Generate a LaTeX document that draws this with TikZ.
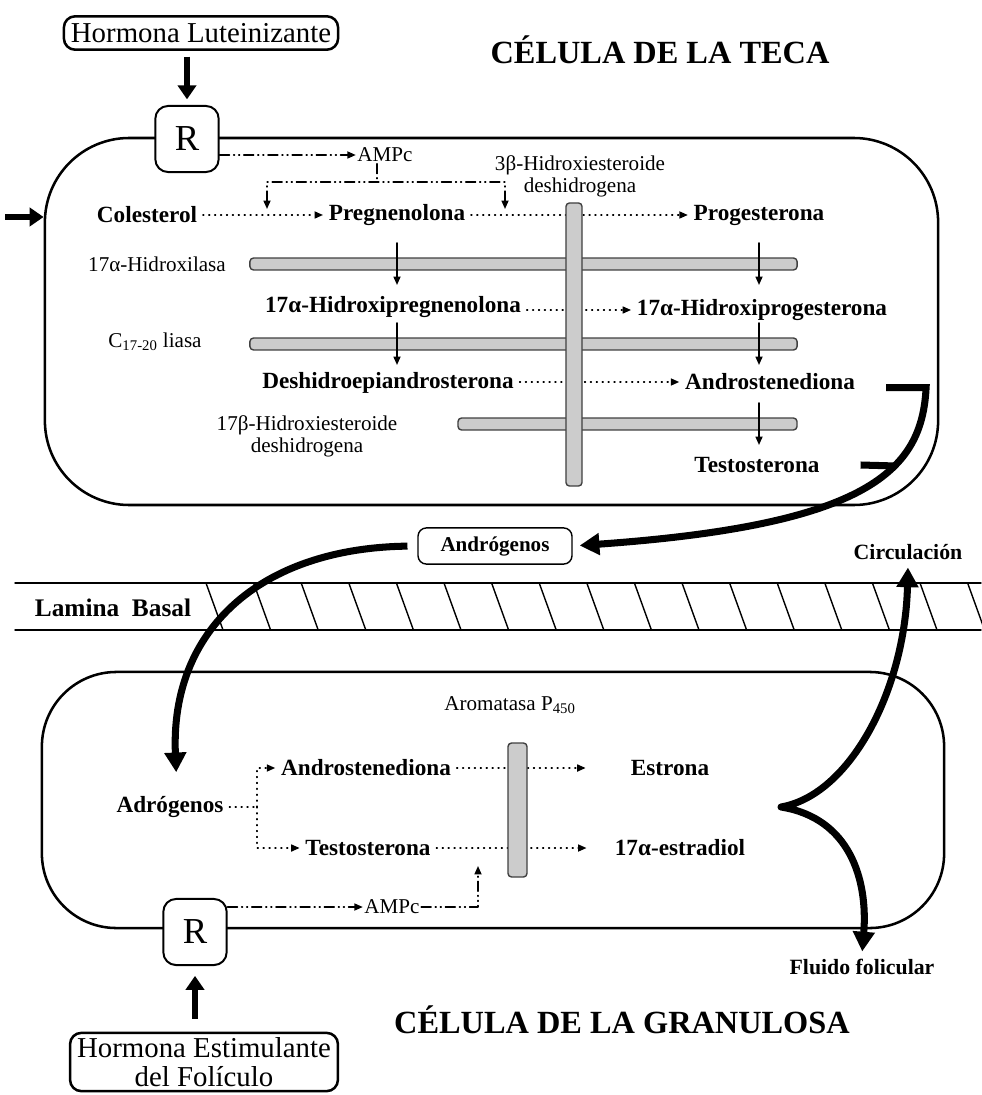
\documentclass[tikz,border=0pt]{standalone}
\usepackage{fontspec}
\setmainfont{Liberation Serif}
\usetikzlibrary{arrows.meta,calc}

\newcommand\fz[2]{\fontsize{#1}{#2}\selectfont}

\begin{document}
\begin{tikzpicture}[x=0.025cm, y=-0.025cm, line cap=round, line join=round,
  met/.style={font=\bfseries\fz{16.5}{18}, inner sep=4pt},
  enz/.style={font=\fz{15}{15.5}, inner sep=1pt, align=center},
  cell/.style={draw, line width=1.8pt, inner sep=0pt},
  rec/.style={draw, fill=white, line width=1.4pt, rounded corners=9pt,
    minimum width=45pt, minimum height=47pt, inner sep=0pt, font=\fz{26}{26}},
  hormbox/.style={draw, fill=white, line width=1.8pt, rounded corners=8pt,
    font=\fz{20.5}{21}, align=center, inner xsep=5pt, inner ysep=5pt},
  bar/.style={draw=black!75, fill=black!20, line width=1pt, rounded corners=2.5pt, inner sep=0pt},
  tip/.style={-{Triangle[length=6pt,width=5pt]}},
  dot/.style={line width=1.1pt, dash pattern=on 0.6pt off 3.6pt, tip},
  camp/.style={line width=1.1pt, dash pattern=on 7pt off 3pt on 0.6pt off 3pt on 0.6pt off 3pt, tip},
  drop/.style={line width=1.1pt, tip},
  hormar/.style={line width=4.5pt, line cap=butt, -{Triangle[length=10pt,width=13pt]}},
  flux/.style={line width=5pt, line cap=butt, -{Triangle[length=14pt,width=15pt]}},
  title/.style={font=\bfseries\fz{23}{25}},
  side/.style={font=\bfseries\fz{15.5}{16}},
]
  \useasboundingbox (0,0) rectangle (981,1095);

  % Células
  \node[cell, rounded corners=60pt, minimum width=635.2pt, minimum height=261pt] (teca) at (491.5,321.5) {};
  \node[cell, rounded corners=53pt, minimum width=641.6pt, minimum height=182.1pt] (gran) at (493,800) {};

  % Lamina basal
  \draw[line width=1pt] (15,583) -- (981,583) (15,630) -- (981,630);
  \foreach \k in {0,...,16} \draw[line width=1pt] (206+47.6*\k,583) -- ++(17,47);
  \node[font=\bfseries\fz{18}{18}] (lam) at (113,608) {Lamina\ \ Basal};

  % Hormonas y receptores
  \node[hormbox] (lh) at (201,33) {Hormona Luteinizante};
  \node[rec] (rt) at (187,139) {R};
  \node[hormbox, inner ysep=3pt] (fsh) at (204,1062) {Hormona Estimulante\\del Folículo};
  \node[rec] (rb) at (195,932) {R};
  \draw[hormar, shorten <=4pt, shorten >=4pt] (lh.south -| rt) -- (rt.north);
  \draw[hormar, shorten <=9pt, shorten >=7pt] (fsh.north -| rb) -- (rb.south);
  \coordinate (ent) at (5,217);
  \draw[hormar] (ent) -- (ent -| teca.west);

  % Títulos
  \node[title] (tteca) at (660,50) {CÉLULA DE LA TECA};
  \node[title] (tgran) at (622,1020) {CÉLULA DE LA GRANULOSA};

  % Célula de la teca
  \node[met] (col) at (147,215) {Colesterol};
  \node[met] (preg) at (397,215) {Pregnenolona};
  \node[met] (prog) at (759,215) {Progesterona};
  \node[met] (hpreg) at (393,307) {17α-Hidroxipregnenolona};
  \node[met] (hprog) at (762,310) {17α-Hidroxiprogesterona};
  \node[met] (dhea) at (388,383) {Deshidroepiandrosterona};
  \node[met] (andr) at (770,382) {Androstenediona};
  \node[met] (test) at (757,465) {Testosterona};

  \node[enz] (ampc) at (385,155) {AMPc};
  \node[enz] (hsd3) at (580,176) {3β-Hidroxiesteroide\\deshidrogena};
  \node[enz] (hidrox) at (157,264) {17α-Hidroxilasa};
  \node[enz] (liasa) at (155,342) {C\textsubscript{17-20} liasa};
  \node[enz] (hsd17) at (307,436) {17β-Hidroxiesteroide\\deshidrogena};

  \draw[dot] (col) -- (preg);
  \draw[dot] (preg) -- (prog);
  \draw[dot] (hpreg.east |- hprog) -- (hprog.west);
  \draw[dot] (dhea.east |- andr) -- (andr.west);

  \draw[camp] (rt.east |- ampc) -- (ampc.west);
  \coordinate (sp) at (377,182);
  \coordinate (h1) at (267,209);
  \coordinate (h2) at (505,209);
  \draw[camp, -] (ampc.south -| sp) -- (sp);
  \draw[camp, {Triangle[length=6pt,width=5pt]}-{Triangle[length=6pt,width=5pt]}] (h1) |- (sp) -| (h2);

  \node[bar, minimum width=389.1pt, minimum height=8.5pt] (b1) at (523.5,264) {};
  \node[bar, minimum width=389.1pt, minimum height=8.5pt] (b2) at (523.5,344) {};
  \node[bar, minimum width=241.1pt, minimum height=8.5pt] (b3) at (627.5,424) {};
  \node[bar, minimum width=11.4pt, minimum height=201.3pt] (bv) at (574,344.5) {};

  \foreach \b in {b1,b2} \draw[drop] ($(\b.center -| preg)+(0,-21)$) -- ($(\b.center -| preg)+(0,21)$);
  \foreach \b in {b1,b2,b3} \draw[drop] ($(\b.center -| prog)+(0,-21)$) -- ($(\b.center -| prog)+(0,21)$);

  % Andrógenos hacia la granulosa
  \node[draw, fill=white, rounded corners=6pt, line width=1pt, font=\bfseries\fz{15}{15},
    inner xsep=16pt, inner ysep=6pt] (andg) at (495,546) {Andrógenos};
  \draw[flux, line join=miter, shorten >=5pt] ([xshift=18pt, yshift=-4pt]andr.east) -- ++(40,0)
    .. controls (922,470) and (870,525) .. (andg.east);
  \coordinate (tj) at (896,466);
  \draw[line width=5pt, line cap=butt] ([xshift=25pt]test.east) -- (tj);

  % Célula de la granulosa
  \node[met] (adrg) at (170,807) {Adrógenos};
  \node[met] (andb) at (366,768) {Androstenediona};
  \node[met] (tesb) at (368,848) {Testosterona};
  \node[met] (estr) at (670,768) {Estrona};
  \node[met] (estd) at (680,848) {17α-estradiol};
  \node[enz] (arom) at (510,705) {Aromatasa P\textsubscript{450}};
  \node[enz] (ampb) at (392,907) {AMPc};

  \draw[flux, shorten <=7pt, shorten >=13pt] (andg.west) .. controls (260,548) and (170,630) .. (adrg.north -| 177,0);

  \coordinate (fk) at (257,807);
  \coordinate (cj) at (478,866);
  \draw[dot, -] (adrg.east) -- (fk);
  \draw[dot] (fk) |- (andb.west);
  \draw[dot] (fk) |- (tesb.west);
  \draw[dot] (andb.east) -- ([xshift=-28pt]estr.west);
  \draw[dot] (tesb.east) -- ([xshift=-16pt]estd.west);
  \draw[camp] (rb.east |- ampb) -- (ampb.west);
  \draw[camp] (ampb.east) -| (cj);
  \node[bar, minimum width=13.5pt, minimum height=95.3pt] (b4) at (517.5,810) {};

  % Salida: circulación y fluido folicular
  \node[side] (circ) at (908,552) {Circulación};
  \node[side] (fluido) at (862,967) {Fluido folicular};
  \coordinate (cusp) at (781,807);
  \draw[flux, {Triangle[length=14pt,width=15pt]}-{Triangle[length=14pt,width=15pt]}, shorten <=2pt, shorten >=2pt]
    (circ.south) .. controls (905,690) and (850,795) .. (cusp)
    .. controls (850,818) and (868,880) .. (fluido.north);
\end{tikzpicture}
\end{document}
